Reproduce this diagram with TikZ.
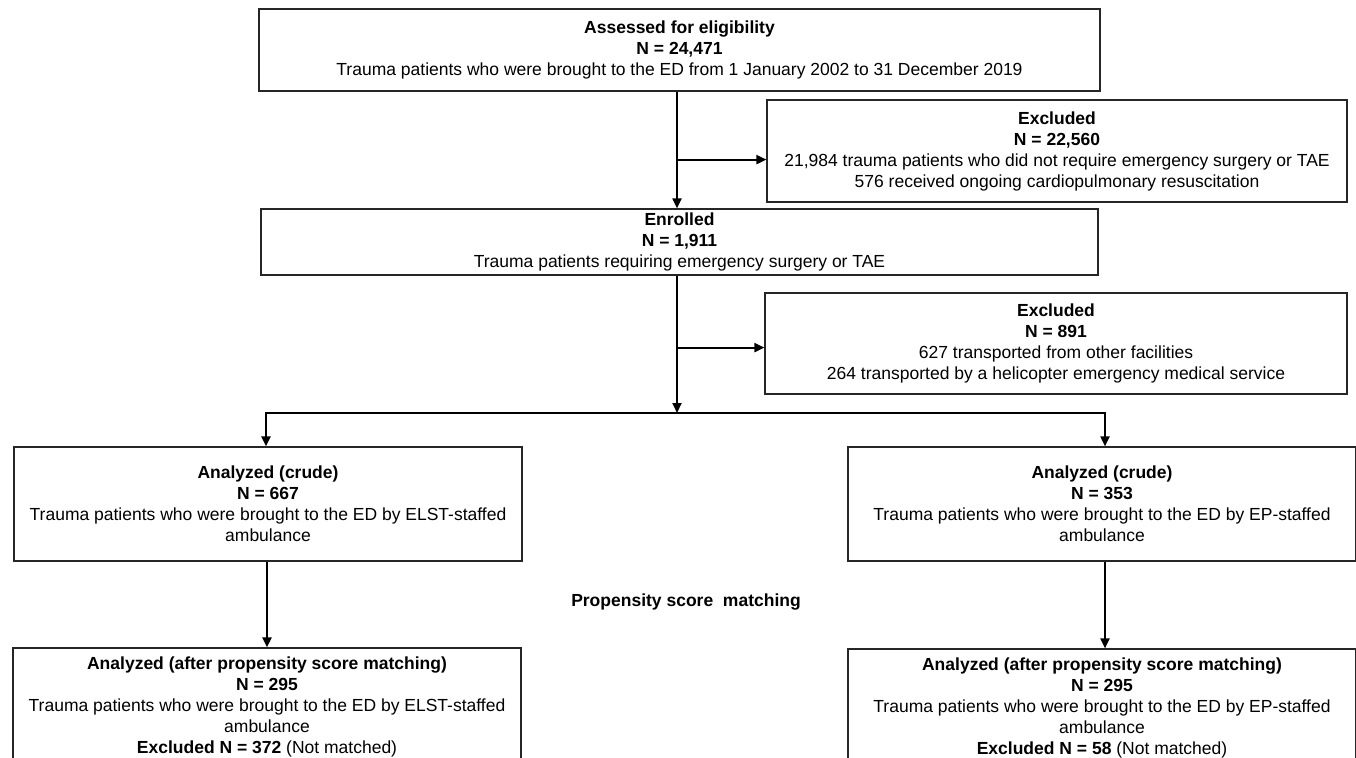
\documentclass[tikz,border=0pt]{standalone}
\usepackage{fontspec}
\setmainfont{Liberation Sans}
\usetikzlibrary{arrows.meta}

\begin{document}
\begin{tikzpicture}[x=1pt, y=-1pt,
    box/.style={rectangle, draw=black!85, line width=1.2pt, align=center, inner sep=0pt, font=\fontsize{17.5}{21}\selectfont},
    flow/.style={-{Triangle[length=10pt, width=9pt]}, line width=2pt}]
    \useasboundingbox (0,0) rectangle (1356,757);

    \node [box, minimum width=841pt, minimum height=82pt] (assessed) at (679.5,50) {\textbf{Assessed for eligibility}\\\textbf{N = 24,471}\\Trauma patients who were brought to the ED from 1 January 2002 to 31 December 2019};
    \node [box, minimum width=580pt, minimum height=102pt] (excl1) at (1057,151) {\textbf{Excluded}\\\textbf{N = 22,560}\\21,984 trauma patients who did not require emergency surgery or TAE\\576 received ongoing cardiopulmonary resuscitation};
    \node [box, minimum width=837pt, minimum height=66pt] (enrolled) at (679.5,242) {\textbf{Enrolled}\\\textbf{N = 1,911}\\Trauma patients requiring emergency surgery or TAE};
    \node [box, minimum width=582pt, minimum height=101pt] (excl2) at (1056,343.5) {\textbf{Excluded}\\\textbf{N = 891}\\627 transported from other facilities\\264 transported by a helicopter emergency medical service};

    \begin{scope}[every node/.style={box, minimum width=508pt, minimum height=114pt}]
        \node (crudeL) at (268,504) {\textbf{Analyzed (crude)}\\\textbf{N = 667}\\Trauma patients who were brought to the ED by ELST-staffed\\ambulance};
        \node (crudeR) at (1102,504) {\textbf{Analyzed (crude)}\\\textbf{N = 353}\\Trauma patients who were brought to the ED by EP-staffed\\ambulance};
        \node [minimum height=118pt] (psmL) at (267,707) {\textbf{Analyzed (after propensity score matching)}\\\textbf{N = 295}\\Trauma patients who were brought to the ED by ELST-staffed\\ambulance\\\textbf{Excluded N = 372} (Not matched)};
        \node [minimum height=118pt] (psmR) at (1102,708) {\textbf{Analyzed (after propensity score matching)}\\\textbf{N = 295}\\Trauma patients who were brought to the ED by EP-staffed\\ambulance\\\textbf{Excluded N = 58} (Not matched)};
    \end{scope}

    \node [font=\fontsize{17.5}{21}\selectfont\bfseries] (psm) at (686,602) {Propensity score\ \ matching};

    \coordinate (split) at (677,413);

    \begin{scope}[flow]
        \draw (assessed.south -| split) -- (enrolled.north -| split);
        \draw (assessed.south -| split) ++(0,68) coordinate (j1) -- (excl1.west |- j1);
        \draw (enrolled.south -| split) -- (split);
        \draw (enrolled.south -| split) ++(0,72) coordinate (j2) -- (excl2.west |- j2);
        \draw (split) -| (crudeL.north -| 266,0);
        \draw (split) -| (crudeR.north -| 1105,0);
        \draw (crudeL.south -| 267,0) -- (psmL.north -| 267,0);
        \draw (crudeR.south -| 1105,0) -- (psmR.north -| 1105,0);
    \end{scope}
\end{tikzpicture}
\end{document}
